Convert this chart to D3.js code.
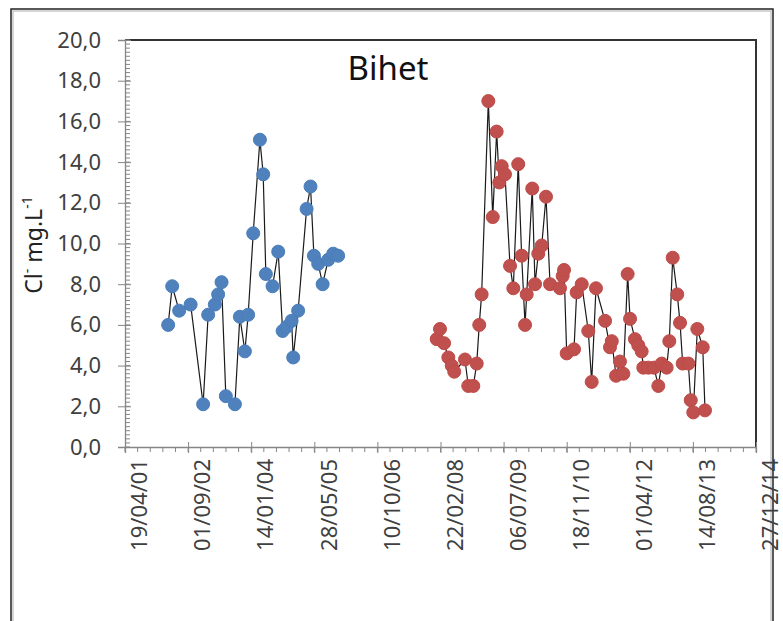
<!DOCTYPE html>
<html>
<head>
<meta charset="utf-8">
<script src="https://cdn.jsdelivr.net/npm/d3@7"></script>
<style>
  html, body { margin: 0; padding: 0; background: #fff; }
  svg { display: block; font-family: "Noto Sans", "Open Sans", sans-serif; }
</style>
</head>
<body>
<svg id="chart" width="783" height="621"></svg>
<script>
// Chloride concentration (mg/L) at Bihet, two sampling campaigns
const blueDates = [
  "2002-03-27","2002-04-28","2002-06-22","2002-09-21","2002-12-29","2003-02-07",
  "2003-04-01","2003-04-27","2003-05-24","2003-06-27","2003-09-07","2003-10-16",
  "2003-11-25","2003-12-21","2004-01-30","2004-03-23","2004-04-18","2004-05-09",
  "2004-07-01","2004-08-15","2004-09-19","2004-10-20","2004-11-29","2004-12-12",
  "2005-01-20","2005-03-28","2005-04-28","2005-05-25","2005-06-28","2005-08-02",
  "2005-09-15","2005-10-25","2005-12-03"
];
const blueValues = [
  6.0, 7.9, 6.7, 7.0, 2.1, 6.5,
  7.0, 7.5, 8.1, 2.5, 2.1, 6.4,
  4.7, 6.5, 10.5, 15.1, 13.4, 8.5,
  7.9, 9.6, 5.7, 5.9, 6.2, 4.4,
  6.7, 11.7, 12.8, 9.4, 9.0, 8.0,
  9.2, 9.5, 9.4
];
const redDates = [
  "2008-01-23","2008-02-18","2008-03-21","2008-04-24","2008-05-21","2008-06-10",
  "2008-09-03","2008-09-29","2008-11-08","2008-12-05","2008-12-25","2009-01-13",
  "2009-03-07","2009-04-11","2009-05-12","2009-06-02","2009-06-21","2009-07-17",
  "2009-08-26","2009-09-21","2009-10-30","2009-11-26","2009-12-23","2010-01-05",
  "2010-02-18","2010-03-12","2010-04-07","2010-05-04","2010-06-07","2010-07-09",
  "2010-09-26","2010-10-17","2010-10-28","2010-11-18","2011-01-15","2011-02-05",
  "2011-03-17","2011-05-08","2011-06-04","2011-07-08","2011-09-18","2011-10-27",
  "2011-11-10","2011-12-14","2012-01-14","2012-02-10","2012-03-15","2012-04-03",
  "2012-05-12","2012-06-07","2012-07-04","2012-07-17","2012-08-26","2012-10-10",
  "2012-11-13","2012-12-10","2013-01-18","2013-02-08","2013-03-07","2013-04-12",
  "2013-05-04","2013-05-25","2013-07-09","2013-07-28","2013-08-17","2013-09-18",
  "2013-10-31","2013-11-18"
];
const redValues = [
  5.3, 5.8, 5.1, 4.4, 4.0, 3.7,
  4.3, 3.0, 3.0, 4.1, 6.0, 7.5,
  17.0, 11.3, 15.5, 13.0, 13.8, 13.4,
  8.9, 7.8, 13.9, 9.4, 6.0, 7.5,
  12.7, 8.0, 9.5, 9.9, 12.3, 8.0,
  7.8, 8.4, 8.7, 4.6, 4.8, 7.6,
  8.0, 5.7, 3.2, 7.8, 6.2, 4.9,
  5.2, 3.5, 4.2, 3.6, 8.5, 6.3,
  5.3, 5.0, 4.7, 3.9, 3.9, 3.9,
  3.0, 4.1, 3.9, 5.2, 9.3, 7.5,
  6.1, 4.1, 4.1, 2.3, 1.7, 5.8,
  4.9, 1.8
];
const xTickLabels = ["19/04/01","01/09/02","14/01/04","28/05/05","10/10/06","22/02/08",
                     "06/07/09","18/11/10","01/04/12","14/08/13","27/12/14"];
const yTickValues = [0, 2, 4, 6, 8, 10, 12, 14, 16, 18, 20];
const titleText = "Bihet";

const parse = d3.timeParse("%Y-%m-%d");
const parseTick = d3.timeParse("%d/%m/%y");
const blue = blueDates.map((d, i) => ({ date: parse(d), value: blueValues[i] }));
const red = redDates.map((d, i) => ({ date: parse(d), value: redValues[i] }));
const xTicks = xTickLabels.map(parseTick);

const svg = d3.select("#chart");
const plot = { left: 125, right: 756, top: 40, bottom: 447 };

const x = d3.scaleTime().domain([xTicks[0], xTicks[xTicks.length - 1]]).range([plot.left, plot.right]);
const y = d3.scaleLinear().domain([0, 20]).range([plot.bottom, plot.top]);

// outer frame
svg.append("rect").attr("x", 11).attr("y", 9).attr("width", 762).attr("height", 630)
  .attr("fill", "none").attr("stroke", "#222").attr("stroke-width", 1.5);
svg.append("rect").attr("x", 13).attr("y", 11).attr("width", 758).attr("height", 626)
  .attr("fill", "none").attr("stroke", "#c8c8c8").attr("stroke-width", 1.5);

// plot area border (top and right)
svg.append("path")
  .attr("d", `M${plot.left},${plot.top}H${plot.right}V${plot.bottom}`)
  .attr("fill", "none").attr("stroke", "#333").attr("stroke-width", 2);

// minor ticks
const axisColor = "#868686";
const yMinor = d3.range(0, 20.001, 0.2);
svg.append("g").selectAll("line").data(yMinor).join("line")
  .attr("x1", plot.left).attr("x2", plot.left + 5)
  .attr("y1", d => y(d)).attr("y2", d => y(d))
  .attr("stroke", axisColor).attr("stroke-width", 1);
const xMinor = d3.range(0, 51).map(i => d3.timeDay.offset(xTicks[0], i * 100));
svg.append("g").selectAll("line").data(xMinor).join("line")
  .attr("x1", d => x(d)).attr("x2", d => x(d))
  .attr("y1", plot.bottom).attr("y2", plot.bottom + 5)
  .attr("stroke", axisColor).attr("stroke-width", 1);

// y axis
const yAxis = d3.axisLeft(y).tickValues(yTickValues).tickSize(7).tickPadding(17)
  .tickFormat(d => d3.format(".1f")(d).replace(".", ","));
const gy = svg.append("g").attr("transform", `translate(${plot.left},0)`).call(yAxis);
gy.select(".domain").attr("stroke", axisColor).attr("stroke-width", 1.3);
gy.selectAll(".tick line").attr("stroke", axisColor).attr("x2", -7).attr("x1", 6);
gy.selectAll("text").attr("font-size", 22).attr("fill", "#404040").attr("font-family", "Noto Sans");

// x axis
const xAxis = d3.axisBottom(x).tickValues(xTicks).tickSize(6)
  .tickFormat((d, i) => xTickLabels[i]);
const gx = svg.append("g").attr("transform", `translate(0,${plot.bottom})`).call(xAxis);
gx.select(".domain").attr("stroke", axisColor).attr("stroke-width", 1.3);
gx.selectAll(".tick line").attr("stroke", axisColor).attr("y1", -5);
gx.selectAll("text")
  .attr("font-size", 22).attr("fill", "#404040").attr("font-family", "Noto Sans")
  .attr("transform", "rotate(-90)")
  .attr("text-anchor", "end")
  .attr("x", -12).attr("y", 14).attr("dy", "0.35em");

// y axis title
const yTitle = svg.append("text")
  .attr("transform", "translate(42,245) rotate(-90)")
  .attr("text-anchor", "middle").attr("font-size", 23).attr("fill", "#222");
yTitle.append("tspan").text("Cl");
yTitle.append("tspan").attr("font-size", 14).attr("dy", -10).text("-");
yTitle.append("tspan").attr("dy", 10).text(" mg.L");
yTitle.append("tspan").attr("font-size", 14).attr("dy", -10).text("-1");

// title
svg.append("text").attr("x", 388).attr("y", 80).attr("text-anchor", "middle")
  .attr("font-size", 33).attr("fill", "#111").text(titleText);

// series
const line = d3.line().x(d => x(d.date)).y(d => y(d.value));
function drawSeries(data, fill, stroke) {
  const g = svg.append("g");
  g.append("path").datum(data).attr("d", line)
    .attr("fill", "none").attr("stroke", "#1a1a1a").attr("stroke-width", 1.2);
  g.selectAll("circle").data(data).join("circle")
    .attr("cx", d => x(d.date)).attr("cy", d => y(d.value)).attr("r", 6.5)
    .attr("fill", fill).attr("stroke", stroke).attr("stroke-width", 1);
}
drawSeries(blue, "#4f81bd", "#4a7ebb");
drawSeries(red, "#c0504d", "#be4b48");
</script>
</body>
</html>
